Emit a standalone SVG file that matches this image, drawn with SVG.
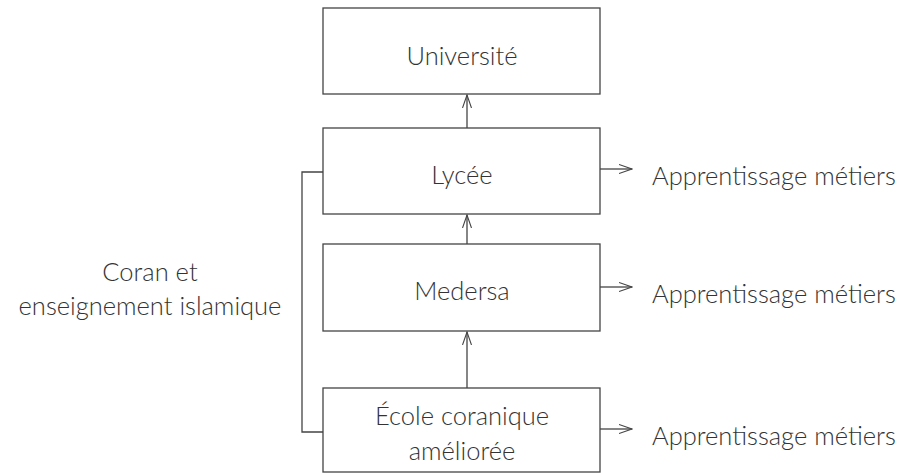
<svg xmlns="http://www.w3.org/2000/svg" width="901" height="475" viewBox="0 0 901 475">
<style>
.box{fill:#fff;stroke:#444;stroke-width:1.3}
.t{font-family:Lato,"Open Sans",sans-serif;font-weight:300;font-size:25.5px;fill:#333;text-anchor:middle}
.l{font-family:Lato,"Open Sans",sans-serif;font-weight:300;font-size:25.5px;fill:#333}
.c{fill:none;stroke:#444;stroke-width:1.3}
</style>
<defs>
<marker id="a" markerWidth="14" markerHeight="10" refX="13" refY="5" orient="auto" markerUnits="userSpaceOnUse" viewBox="0 0 14 10">
<path d="M0,0.5 L13,5 L0,9.5" fill="none" stroke="#444" stroke-width="1.1"/>
</marker>
</defs>
<g id="connectors">
<line class="c" x1="467" y1="128" x2="467" y2="95" marker-end="url(#a)"/>
<line class="c" x1="467" y1="244" x2="467" y2="215" marker-end="url(#a)"/>
<line class="c" x1="467" y1="388" x2="467" y2="332" marker-end="url(#a)"/>
<polyline class="c" points="323,172 302,172 302,432 323,432"/>
<line class="c" x1="600" y1="169" x2="632" y2="169" marker-end="url(#a)"/>
<line class="c" x1="600" y1="287" x2="632" y2="287" marker-end="url(#a)"/>
<line class="c" x1="600" y1="429" x2="632" y2="429" marker-end="url(#a)"/>
</g>
<g id="universite"><rect class="box" x="323" y="8" width="277" height="86"/><text class="t" x="462" y="65">Université</text></g>
<g id="lycee"><rect class="box" x="323" y="128" width="277" height="86"/><text class="t" x="462" y="184">Lycée</text></g>
<g id="medersa"><rect class="box" x="323" y="244" width="277" height="87"/><text class="t" x="462" y="300">Medersa</text></g>
<g id="ecole"><rect class="box" x="323" y="388" width="277" height="84"/><text class="t" x="462" y="425">École coranique</text><text class="t" x="462" y="460">améliorée</text></g>
<g id="coran"><text class="t" x="150" y="281">Coran et</text><text class="t" x="150" y="315">enseignement islamique</text></g>
<g id="app1"><text class="l" x="652" y="185">Apprentissage métiers</text></g>
<g id="app2"><text class="l" x="652" y="303">Apprentissage métiers</text></g>
<g id="app3"><text class="l" x="652" y="445">Apprentissage métiers</text></g>
</svg>
